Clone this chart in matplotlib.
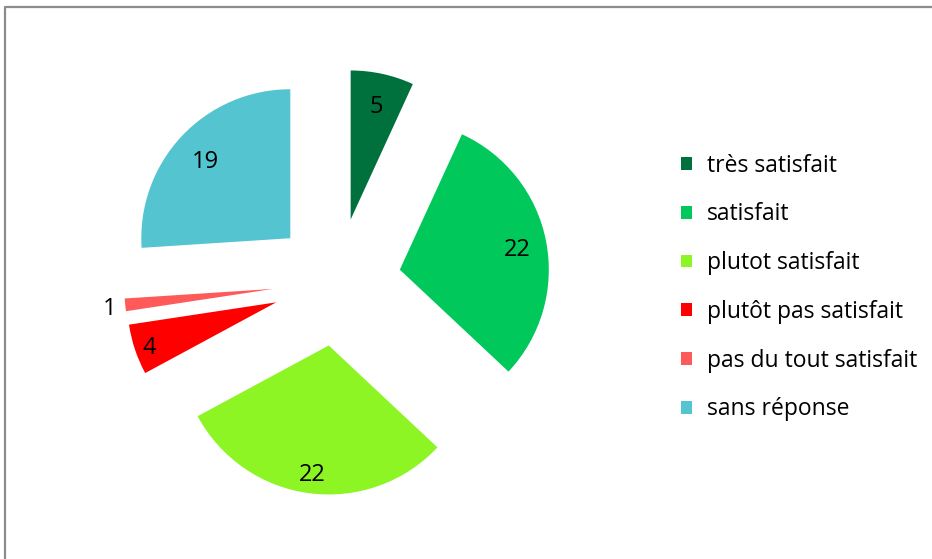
import matplotlib
matplotlib.use("Agg")
import matplotlib.pyplot as plt
from matplotlib.lines import Line2D
import math

categories = ["très satisfait", "satisfait", "plutot satisfait",
              "plutôt pas satisfait", "pas du tout satisfait", "sans réponse"]
values = [5, 22, 22, 4, 1, 19]
colors = ["#00703C", "#00C85A", "#8CF523", "#FF0000", "#FF5A5A", "#54C4D0"]
label_dist = [0.79, 0.80, 0.855, 0.90, 1.105, 0.78]

W, H = 932, 559
fig = plt.figure(figsize=(W / 100, H / 100), dpi=100)
plt.rcParams['font.family'] = ['Open Sans', 'DejaVu Sans']

# outer chart frame (only top/left edges visible in the original)
fig.lines.append(Line2D([4.5 / W, 4.5 / W, 1.0], [0.0, 1 - 6.5 / H, 1 - 6.5 / H],
                        transform=fig.transFigure, color="#8c8c8c", linewidth=1.6))

ax = fig.add_axes([0, 0, 1, 1])
ax.axis("off")

R = 149
cx, cy = 337, H - 282
explode = [64] * len(values)

wedges, _ = ax.pie(values, colors=colors, startangle=90, counterclock=False,
                   radius=R, center=(cx, cy), explode=explode,
                   wedgeprops=dict(linewidth=0))
ax.set_xlim(0, W)
ax.set_ylim(0, H)
ax.set_aspect("equal")

for w, v, d in zip(wedges, values, label_dist):
    tm = math.radians((w.theta1 + w.theta2) / 2)
    x0, y0 = w.center
    ax.annotate(str(v), (x0 + d * w.r * math.cos(tm), y0 + d * w.r * math.sin(tm)),
                xytext=(0, -2), textcoords="offset points",
                ha="center", va="center", fontsize=17, color="black")

leg = ax.legend(wedges, categories, loc="upper left",
                bbox_to_anchor=(672 / W, 1 - 144.5 / H), frameon=False,
                fontsize=16.5, handlelength=0.47, handleheight=0.47,
                handletextpad=0.66, labelspacing=1.08, borderaxespad=0)

fig.savefig("out.png", dpi=100)
